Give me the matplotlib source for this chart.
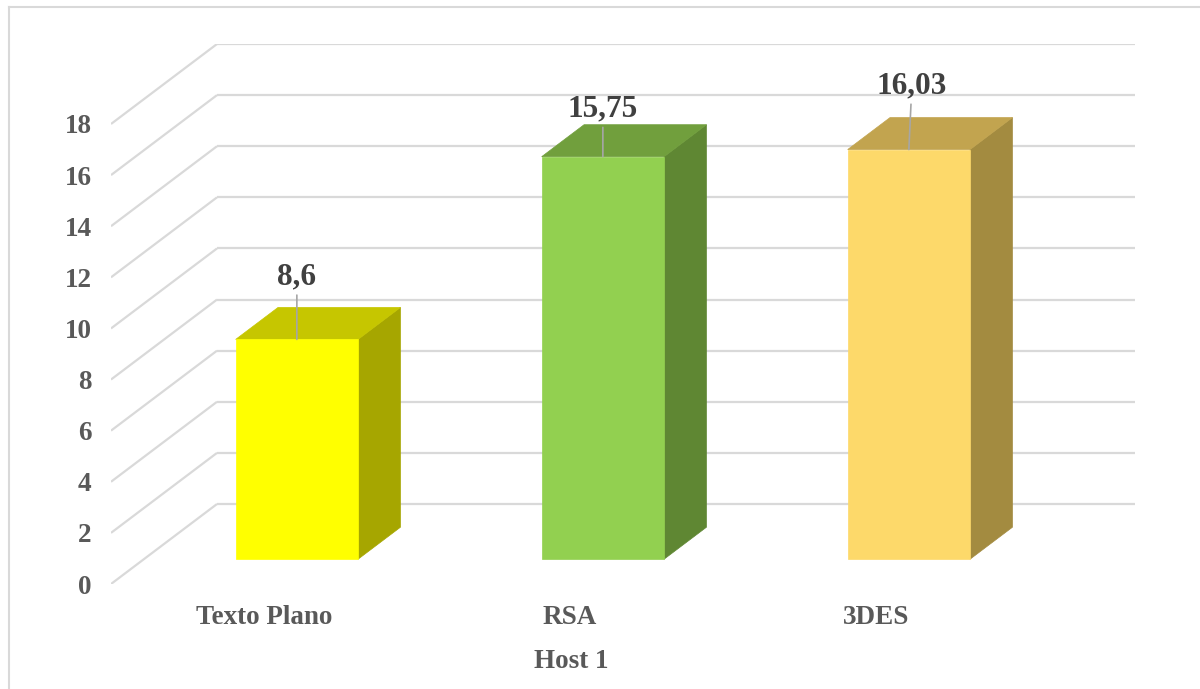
import matplotlib
matplotlib.use("Agg")
import matplotlib.pyplot as plt
from matplotlib.patches import Polygon
from matplotlib.lines import Line2D

# --- data -------------------------------------------------------------
categories = ["Texto Plano", "RSA", "3DES"]
values = [8.6, 15.75, 16.03]
value_labels = ["8,6", "15,75", "16,03"]
y_ticks = [0, 2, 4, 6, 8, 10, 12, 14, 16, 18]
axis_title = "Host 1"

# --- styling ----------------------------------------------------------
front_colors = ["#FFFF00", "#92D050", "#FDD96A"]
top_colors = ["#C6C600", "#719F3D", "#C2A44F"]
side_colors = ["#A6A600", "#5F8733", "#A38B40"]
label_offsets = [(0, 63), (0, 48), (3, 64)]  # pixels above the bar's front top

GRID = "#D9D9D9"
TEXT = "#595959"
LABEL = "#404040"
FONT = ["Liberation Serif", "DejaVu Serif"]

# oblique projection of the depth axis, in data units
DX = 0.3464   # horizontal shift (categories) from front to back
DY = 3.13     # vertical shift (value units) from front to back
D0, D1 = 0.31, 0.71  # depth span of the bars (fraction of full depth)
BAR_W = 0.40
X0, X1 = -0.5, 2.5

W, H = 1200, 689
fig = plt.figure(figsize=(W / 100, H / 100), dpi=100)

# chart-area border
fig.add_artist(Line2D([9 / W, 1.0], [1 - 7 / H, 1 - 7 / H], color=GRID, lw=1.5))
fig.add_artist(Line2D([9 / W, 9 / W], [0, 1 - 7 / H], color=GRID, lw=1.5))

ax = fig.add_axes([111 / W, (H - 584) / H, (1135 - 111) / W, (584 - 44) / H])
ax.set_xlim(X0, X1 + DX)
ax.set_ylim(0, 18 + DY)
for s in ax.spines.values():
    s.set_visible(False)

# side wall diagonals and back wall gridlines
for t in y_ticks:
    ax.plot([X0, X0 + DX], [t, t + DY], color=GRID, lw=1.6, zorder=1,
            solid_capstyle="butt")
    ax.plot([X0 + DX, X1 + DX], [t + DY, t + DY], color=GRID, lw=1.6, zorder=1,
            solid_capstyle="butt")

# 3-D looking bars
for i, v in enumerate(values):
    xl = i - BAR_W / 2 + D0 * DX
    xr = i + BAR_W / 2 + D0 * DX
    yb = D0 * DY
    yt = v + D0 * DY
    ddx = (D1 - D0) * DX
    ddy = (D1 - D0) * DY
    front = Polygon([(xl, yb), (xr, yb), (xr, yt), (xl, yt)], closed=True,
                    facecolor=front_colors[i], edgecolor=front_colors[i],
                    lw=0.5, zorder=3)
    side = Polygon([(xr, yb), (xr + ddx, yb + ddy), (xr + ddx, yt + ddy), (xr, yt)],
                   closed=True, facecolor=side_colors[i], edgecolor=side_colors[i],
                   lw=0.5, zorder=3)
    top = Polygon([(xl, yt), (xr, yt), (xr + ddx, yt + ddy), (xl + ddx, yt + ddy)],
                  closed=True, facecolor=top_colors[i], edgecolor=top_colors[i],
                  lw=0.5, zorder=3)
    for p in (side, top, front):
        ax.add_patch(p)

    cx = i + D0 * DX
    ox, oy = label_offsets[i]
    ax.annotate(value_labels[i], xy=(cx, yt), xytext=(ox, oy),
                textcoords="offset pixels", ha="center", va="center",
                fontsize=22.5, fontweight="bold", family=FONT, color=LABEL,
                arrowprops=dict(arrowstyle="-", color="#A6A6A6", lw=1.2,
                                shrinkA=1, shrinkB=0),
                zorder=5)

# axes ticks and labels
ax.set_yticks(y_ticks)
ax.set_yticklabels([str(t) for t in y_ticks], fontsize=19.5, fontweight="bold",
                   family=FONT, color=TEXT)
ax.tick_params(axis="y", length=0, pad=14)
ax.set_xticks(range(len(categories)))
ax.set_xticklabels(categories, fontsize=19.5, fontweight="bold", family=FONT,
                   color=TEXT)
ax.tick_params(axis="x", length=0, pad=15)
ax.set_xlabel(axis_title, fontsize=19.5, fontweight="bold", family=FONT,
              color=TEXT)
ax.xaxis.set_label_coords((571 - 111) / (1135 - 111), -(649 - 584) / (584 - 44))

fig.savefig("out.png", dpi=100, facecolor="white")
